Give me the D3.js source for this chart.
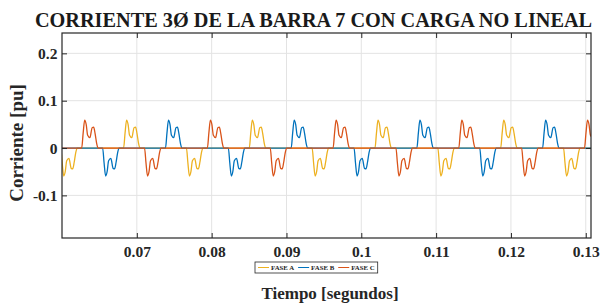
<!DOCTYPE html>
<html>
<head>
<meta charset="utf-8">
<script src="https://cdn.jsdelivr.net/npm/d3@7"></script>
<style>
  body { margin: 0; background: #fff; }
  text { font-family: "Liberation Serif", "Times New Roman", serif; font-weight: bold; }
</style>
</head>
<body>
<div id="chart"></div>
<script>
var width = 600,
    height = 305;
var margin = {top: 33, right: 9, bottom: 67, left: 62};

// x and y tick labels
var xTicks = [0.07, 0.08, 0.09, 0.1, 0.11, 0.12, 0.13];
var yTicks = [-0.1, 0, 0.1, 0.2];
var xDomain = [0.06, 0.1307];
var yDomain = [-0.19, 0.243];

// one current pulse (time from its start in s, value in pu)
var pulseTime  = [0, 0.0002, 0.0004, 0.0006, 0.0008, 0.0011, 0.0014, 0.0016, 0.0018, 0.0020, 0.0022];
var pulseValue = [0, 0.032, 0.059, 0.05, 0.027, 0.022, 0.043, 0.044, 0.030, 0.010, 0];

// start of each positive / negative pulse per phase
var faseAPos = [0.06823, 0.08503, 0.10183, 0.11863];
var faseANeg = [0.05983, 0.07663, 0.09343, 0.11023, 0.12703];
var faseBPos = [0.07383, 0.09063, 0.10743, 0.12423];
var faseBNeg = [0.06543, 0.08223, 0.09903, 0.11583];
var faseCPos = [0.06263, 0.07943, 0.09623, 0.11303, 0.12983];
var faseCNeg = [0.07103, 0.08783, 0.10463, 0.12143];

var phaseNames = ["FASE A", "FASE B", "FASE C"];
var phaseColors = ["#EDB120", "#0072BD", "#D95319"];

// build a series from the pulse starts
function buildSeries(pos, neg) {
    var starts = pos.map(function(t) { return {t: t, s: 1}; })
        .concat(neg.map(function(t) { return {t: t, s: -1}; }))
        .sort(function(a, b) { return a.t - b.t; });
    var pts = [{t: xDomain[0] - 0.003, v: 0}];
    starts.forEach(function(p) {
        pulseTime.forEach(function(dt, i) {
            pts.push({t: p.t + dt, v: p.s * pulseValue[i]});
        });
    });
    pts.push({t: xDomain[1] + 0.003, v: 0});
    return pts;
}
var series = [
    buildSeries(faseAPos, faseANeg),
    buildSeries(faseBPos, faseBNeg),
    buildSeries(faseCPos, faseCNeg)
];

var svg = d3.select("#chart").append("svg")
    .attr("width", width)
    .attr("height", height);

var x = d3.scaleLinear().domain(xDomain).range([margin.left, width - margin.right]);
var y = d3.scaleLinear().domain(yDomain).range([height - margin.bottom, margin.top]);

var x0 = margin.left, x1 = width - margin.right;
var y0 = margin.top, y1 = height - margin.bottom;

// grid
svg.append("g").selectAll("line").data(xTicks).enter().append("line")
    .attr("x1", function(d) { return x(d); }).attr("x2", function(d) { return x(d); })
    .attr("y1", y0).attr("y2", y1)
    .attr("stroke", "#e3e3e3").attr("stroke-width", 1);
svg.append("g").selectAll("line").data(yTicks).enter().append("line")
    .attr("y1", function(d) { return y(d); }).attr("y2", function(d) { return y(d); })
    .attr("x1", x0).attr("x2", x1)
    .attr("stroke", "#e3e3e3").attr("stroke-width", 1);

// clip for the curves
svg.append("clipPath").attr("id", "clip").append("rect")
    .attr("x", x0).attr("y", y0).attr("width", x1 - x0).attr("height", y1 - y0);

var line = d3.line()
    .x(function(d) { return x(d.t); })
    .y(function(d) { return y(d.v); })
    .curve(d3.curveMonotoneX);

svg.append("g").attr("clip-path", "url(#clip)")
    .selectAll("path").data(series).enter().append("path")
    .attr("d", line)
    .attr("fill", "none")
    .attr("stroke", function(d, i) { return phaseColors[i]; })
    .attr("stroke-width", 1.3);

// axes, MATLAB style with ticks inside
var tickLen = 5;
var xAxisB = d3.axisBottom(x).tickValues(xTicks).tickSizeInner(-tickLen).tickSizeOuter(0)
    .tickFormat(function(d) { return String(d); });
var xAxisT = d3.axisTop(x).tickValues(xTicks).tickSizeInner(-tickLen).tickSizeOuter(0).tickFormat("");
var yAxisL = d3.axisLeft(y).tickValues(yTicks).tickSizeInner(-tickLen).tickSizeOuter(0)
    .tickFormat(function(d) { return String(d); });
var yAxisR = d3.axisRight(y).tickValues(yTicks).tickSizeInner(-tickLen).tickSizeOuter(0).tickFormat("");

function styleAxis(g) {
    g.select(".domain").remove();
    g.selectAll("line").attr("stroke", "#262626");
    g.selectAll("text").attr("fill", "#262626").attr("font-size", 15.5)
        .attr("font-family", "Liberation Serif, serif").attr("font-weight", "bold");
}
svg.append("g").attr("transform", "translate(0," + y1 + ")").call(xAxisB).call(styleAxis)
    .selectAll("text").attr("dy", "1.05em");
svg.append("g").attr("transform", "translate(0," + y0 + ")").call(xAxisT).call(styleAxis);
svg.append("g").attr("transform", "translate(" + x0 + ",0)").call(yAxisL).call(styleAxis)
    .selectAll("text").attr("dx", "-0.1em");
svg.append("g").attr("transform", "translate(" + x1 + ",0)").call(yAxisR).call(styleAxis);

// box
svg.append("rect")
    .attr("x", x0).attr("y", y0).attr("width", x1 - x0).attr("height", y1 - y0)
    .attr("fill", "none").attr("stroke", "#262626").attr("stroke-width", 1.2);

// title and labels
svg.append("text")
    .attr("x", 313.5).attr("y", 27)
    .attr("text-anchor", "middle")
    .attr("font-size", 20.3)
    .attr("fill", "#1a1a1a")
    .text("CORRIENTE 3\u00D8 DE LA BARRA 7 CON CARGA NO LINEAL");

svg.append("text")
    .attr("transform", "translate(23," + 143 + ") rotate(-90)")
    .attr("text-anchor", "middle")
    .attr("font-size", 19)
    .attr("fill", "#262626")
    .text("Corriente [pu]");

svg.append("text")
    .attr("x", 330).attr("y", 299)
    .attr("text-anchor", "middle")
    .attr("font-size", 17)
    .attr("fill", "#262626")
    .text("Tiempo [segundos]");

// legend, entries laid out by their measured text width
var legX = 255, legY = 262, legH = 11;
var leg = svg.append("g");
var legBox = leg.append("rect")
    .attr("x", legX).attr("y", legY).attr("height", legH)
    .attr("fill", "#fff").attr("stroke", "#262626").attr("stroke-width", 0.8);
var cx = legX + 3;
phaseNames.forEach(function(name, i) {
    leg.append("line")
        .attr("x1", cx).attr("x2", cx + 11)
        .attr("y1", legY + legH / 2).attr("y2", legY + legH / 2)
        .attr("stroke", phaseColors[i])
        .attr("stroke-width", 1);
    var t = leg.append("text")
        .attr("x", cx + 13).attr("y", legY + legH / 2 + 2.4)
        .attr("font-size", 6.8)
        .attr("fill", "#262626")
        .text(name);
    cx += 13 + t.node().getComputedTextLength() + 4;
});
legBox.attr("width", cx - legX - 1);
</script>
</body>
</html>
